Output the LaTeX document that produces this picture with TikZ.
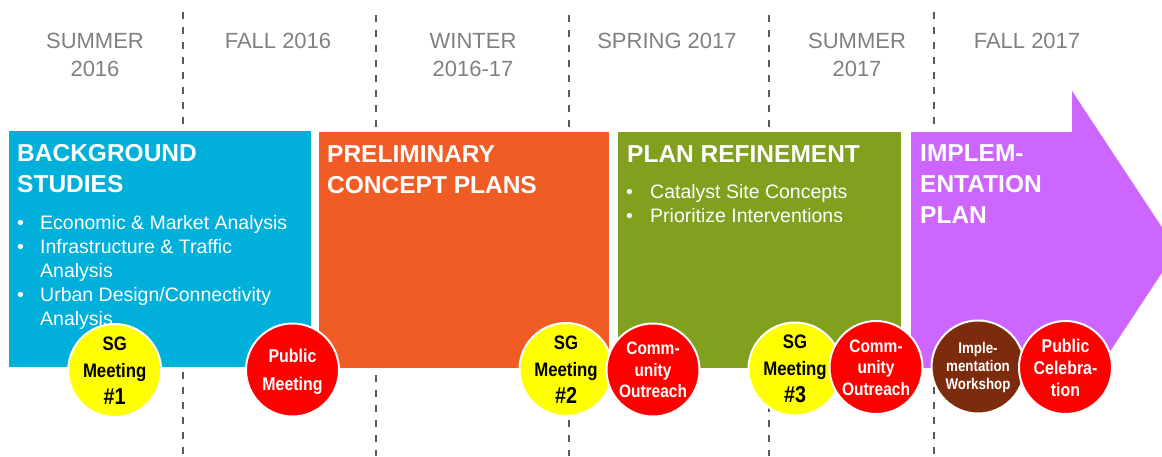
\documentclass[tikz,border=0pt]{standalone}
\usepackage{fontspec}
\setmainfont{Liberation Sans}
\newfontfamily\periodfont{Liberation Sans}
\newfontfamily\circfont[FakeStretch=0.86]{Liberation Sans}
\definecolor{cblue}{RGB}{0,176,219}
\definecolor{corange}{RGB}{241,92,37}
\definecolor{cgreen}{RGB}{128,160,30}
\definecolor{cpurple}{RGB}{204,102,255}
\definecolor{cbrown}{RGB}{124,44,12}
\definecolor{cred}{RGB}{255,0,0}
\definecolor{cyellow}{RGB}{255,255,0}
\definecolor{pgray}{RGB}{128,128,128}
\definecolor{dgray}{RGB}{90,90,90}
\begin{document}
\begin{tikzpicture}[x=1pt,y=-1pt,
  dline/.style={draw=dgray, line width=1.6pt, dash pattern=on 7pt off 8pt},
  period/.style={font=\periodfont\fontsize{22}{27.7}\selectfont, text=pgray, inner sep=0, anchor=base},
  panel/.style={inner sep=0, anchor=north west, minimum height=236pt},
  title/.style={font=\bfseries\fontsize{24.5}{31}\selectfont, text=white, inner sep=0, anchor=base west},
  body/.style={font=\fontsize{19.5}{24}\selectfont, text=white, inner sep=0, anchor=base west},
  circ/.style={circle, draw=white, line width=2pt, minimum size=93pt, inner sep=0},
  ctext/.style={font=\circfont\bfseries\fontsize{19.5}{27}\selectfont, align=center, inner sep=0},
]
\useasboundingbox (0,0) rectangle (1162,456);
\clip (0,0) rectangle (1162,456);
% period dividers
\foreach \xx/\yy in {183/12,376/15,569/15,769/15,934/12}
  \draw[dline] (\xx,\yy) -- (\xx,456);
% period labels
\node[period] (p1) at (95,48.3) {\begin{tabular}[t]{@{}c@{}}SUMMER\\2016\end{tabular}};
\node[period] (p2) at (278,48.3) {FALL 2016};
\node[period] (p3) at (473,48.3) {\begin{tabular}[t]{@{}c@{}}WINTER\\2016-17\end{tabular}};
\node[period] (p4) at (667,48.3) {SPRING 2017};
\node[period] (p5) at (857,48.3) {\begin{tabular}[t]{@{}c@{}}SUMMER\\2017\end{tabular}};
\node[period] (p6) at (1027,48.3) {FALL 2017};
% panels
\node[panel, fill=cblue, minimum width=302pt] (bg) at (9,131) {};
\node[panel, fill=corange, minimum width=290pt] (pre) at (319,132) {};
\node[panel, fill=cgreen, minimum width=283pt] (ref) at (618,132) {};
\fill[cpurple] (911,132) -- (1072,132) -- (1072,91) -- (1177,250) -- (1072,409) -- (1072,368) -- (911,368) -- cycle;
% titles
\node[title] (t1) at (17,161) {\begin{tabular}[t]{@{}l@{}}BACKGROUND\\STUDIES\end{tabular}};
\node[title] (t2) at (327,162) {\begin{tabular}[t]{@{}l@{}}PRELIMINARY\\CONCEPT PLANS\end{tabular}};
\node[title] (t3) at (627,162) {PLAN REFINEMENT};
\node[title] (t4) at (920,161) {\begin{tabular}[t]{@{}l@{}}IMPLEM-\\ENTATION\\PLAN\end{tabular}};
% bullets
\node[body] (b1) at (17,229) {\begin{tabular}[t]{@{}l@{}l@{}}
  \makebox[23pt][l]{•} & Economic \& Market Analysis\\
  \makebox[23pt][l]{•} & Infrastructure \& Traffic\\
   & Analysis\\
  \makebox[23pt][l]{•} & Urban Design/Connectivity\\
   & Analysis\end{tabular}};
\node[body] (b3) at (626,198) {\begin{tabular}[t]{@{}l@{}l@{}}
  \makebox[24pt][l]{•} & Catalyst Site Concepts\\
  \makebox[24pt][l]{•} & Prioritize Interventions\end{tabular}};
% milestones
\node[circ, fill=cyellow] (sg1) at (114.7,370.5) {};
\node[ctext, text=black] at (sg1) {SG\\Meeting\\\fontsize{23}{26}\selectfont\#1};
\node[circ, fill=cred] (pm) at (292.5,370) {};
\node[ctext, text=white, font=\circfont\bfseries\fontsize{18.5}{28}\selectfont, yshift=-2pt] at (pm) {Public\\Meeting};
\node[circ, fill=cyellow] (sg2) at (566,369.5) {};
\node[ctext, text=black] at (sg2) {SG\\Meeting\\\fontsize{23}{26}\selectfont\#2};
\node[circ, fill=cred] (co1) at (653,370) {};
\node[ctext, text=white, font=\circfont\bfseries\fontsize{18}{21.5}\selectfont] at (co1) {Comm-\\unity\\Outreach};
\node[circ, fill=cyellow] (sg3) at (795,369) {};
\node[ctext, text=black] at (sg3) {SG\\Meeting\\\fontsize{23}{26}\selectfont\#3};
\node[circ, fill=cred] (co2) at (876,367.5) {};
\node[ctext, text=white, font=\circfont\bfseries\fontsize{18}{21.5}\selectfont] at (co2) {Comm-\\unity\\Outreach};
\node[circ, fill=cbrown] (iw) at (978,367) {};
\node[ctext, text=white, font=\circfont\bfseries\fontsize{15.5}{18}\selectfont] at (iw) {Imple-\\mentation\\Workshop};
\node[circ, fill=cred] (pc) at (1065.5,367.5) {};
\node[ctext, text=white, font=\circfont\bfseries\fontsize{18.5}{22}\selectfont] at (pc) {Public\\Celebra-\\tion};
\end{tikzpicture}
\end{document}
